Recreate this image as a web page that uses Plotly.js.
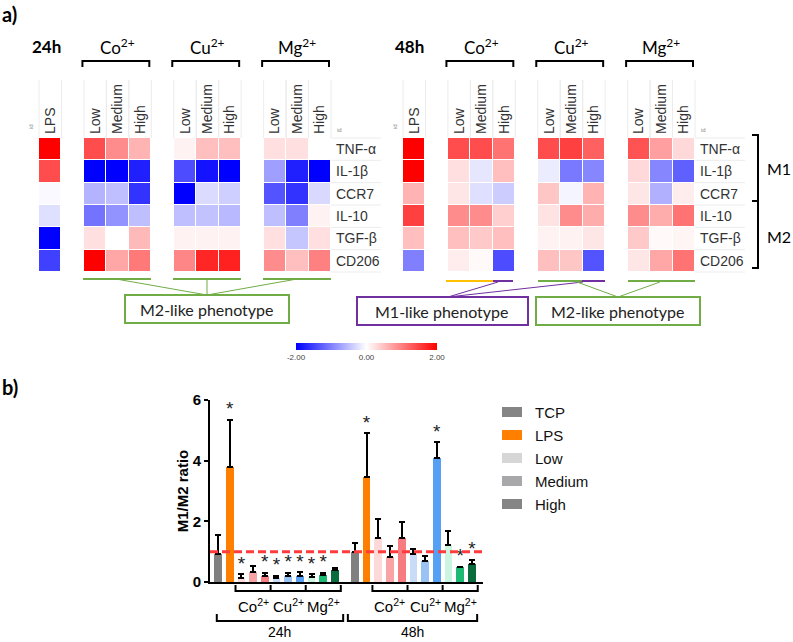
<!DOCTYPE html>
<html><head><meta charset="utf-8">
<script src="https://cdn.plot.ly/plotly-3.0.1.min.js"></script>
<style>html,body{margin:0;padding:0;background:#fff}#chart{width:793px;height:642px}</style>
</head><body><div id="chart"></div>
<script>
// ---------------- DATA ----------------
const rowLabels = ['TNF-α','IL-1β','CCR7','IL-10','TGF-β','CD206'];
const ions = ['Co','Cu','Mg'];
const levels = ['Low','Medium','High'];
const timePoints = ['24h','48h'];

// heatmap values (colour scale -2..2); each group: rows x [Low, Medium, High]
const lps24 = [2.0, 1.4, -0.05, -0.25, -2.0, -1.5];
const co24 = [[1.4,0.9,0.6],[-2,-2,-1.75],[-0.6,-0.5,-1.6],[-1.1,-0.85,-0.5],[0.25,0,0.55],[2,0.7,1.05]];
const cu24 = [[0.1,0.5,0.5],[-1.4,-1.85,-2],[-2,-0.28,-0.38],[-0.5,-0.48,-0.55],[0.1,0.1,0.1],[0.95,1.7,1.75]];
const mg24 = [[0.25,0.25,0],[-0.75,-1.75,-2],[-1.35,-1.6,-0.3],[-0.5,-1.0,0.1],[0.25,-0.45,0.25],[0.9,0.5,1.0]];
const lps48 = [2.0, 2.0, 0.6, 1.5, 0.5, -1.0];
const co48 = [[1.4,1.4,1.1],[0.25,-0.2,0.5],[0.2,-0.25,-0.4],[0.9,0.9,0.38],[0.5,0.42,0.5],[0.15,0.05,-1.4]];
const cu48 = [[1.4,1.5,1.25],[-0.15,-1.05,-0.95],[0.45,-0.08,0.6],[0.22,0.9,0.65],[0.1,0.1,0.2],[0.5,0.45,-1.35]];
const mg48 = [[1.35,0.75,0.3],[0.3,-0.95,-1.25],[0.2,-0.62,0.15],[0.9,0.65,1.1],[0.42,0.05,0.08],[0.2,0.7,1.1]];

// bar chart: order TCP, LPS, Co L/M/H, Cu L/M/H, Mg L/M/H
const barNames = ['TCP','LPS','Co Low','Co Medium','Co High','Cu Low','Cu Medium','Cu High','Mg Low','Mg Medium','Mg High'];
const ratio24 = [0.93, 3.8, 0.12, 0.34, 0.21, 0.12, 0.20, 0.21, 0.15, 0.22, 0.40];
const sd24    = [0.62, 1.55, 0.13, 0.20, 0.08, 0.08, 0.11, 0.11, 0.10, 0.09, 0.07];
const sig24   = [0, 1, 1, 0, 1, 1, 1, 1, 1, 1, 0];
const ratio48 = [1.00, 3.47, 1.44, 0.83, 1.44, 0.92, 0.70, 4.10, 1.21, 0.48, 0.59];
const sd48    = [0.27, 1.43, 0.63, 0.37, 0.53, 0.17, 0.17, 0.50, 0.47, 0.02, 0.13];
const sig48   = [0, 1, 0, 0, 0, 0, 0, 1, 0, 1, 1];
const legendLabels = ['TCP','LPS','Low','Medium','High'];
const refRatio = 1;

// ---------------- STYLE ----------------
const barColors = ['#808080','#ff8000','#fdd9d9','#f9a3a5','#f77c7f','#c9dcf7','#99c2f5','#559ff5','#c9f5e1','#1cba73','#0a6b3d'];
const legendColors = ['#858585','#ff8000','#d6d6d6','#a8a8aa','#858585'];
const W = 793, H = 642;
const X = v => v / W, Y = v => 1 - v / H;
const LATO = 'Lato, "Liberation Sans", sans-serif';
const ARIAL = '"Liberation Sans", Arial, sans-serif';

// heatmap geometry
const heatX0 = [39, 403], heatW = 292, nCols = 13, cw = heatW / nCols;
const heatTop = 138, heatBot = 272;

function buildZ(lps, co, cu, mg) {
  return rowLabels.map((_, r) => [lps[r], null, ...co[r], null, ...cu[r], null, ...mg[r]]);
}
const groupStart = [2, 6, 10];
const tickVals = [0, ...groupStart.flatMap(g => [g, g + 1, g + 2])];
const tickText = ['LPS', ...groupStart.flatMap(() => levels)];
const colorscale = [[0, '#0000ff'], [0.5, '#ffffff'], [1, '#ff0000']];

const traces = [];
const zs = [buildZ(lps24, co24, cu24, mg24), buildZ(lps48, co48, cu48, mg48)];
zs.forEach((z, k) => {
  traces.push({
    type: 'heatmap', z: z, x: [...Array(nCols).keys()], y: [...Array(rowLabels.length).keys()],
    xaxis: k ? 'x2' : 'x', yaxis: k ? 'y2' : 'y',
    colorscale: colorscale, zmin: -2, zmax: 2, xgap: 1, ygap: 1,
    showscale: k === 0, hoverongaps: false,
    colorbar: {
      orientation: 'h', x: X(366.5), xanchor: 'center', y: Y(343), yanchor: 'top',
      len: 141, lenmode: 'pixels', thickness: 7, thicknessmode: 'pixels',
      outlinewidth: 0, xpad: 0, ypad: 0,
      tickvals: [-2, 0, 2], ticktext: ['-2.00', '0.00', '2.00'], ticks: '',
      tickfont: { size: 8, color: '#444', family: ARIAL }
    }
  });
});

// bars
const gap48 = 11.7;
const pos = [...ratio24.map((_, i) => i), ...ratio48.map((_, i) => i + gap48)];
const vals = [...ratio24, ...ratio48];
const sds = [...sd24, ...sd48];
const sigs = [...sig24, ...sig48];
traces.push({
  type: 'bar', x: pos, y: vals, xaxis: 'x3', yaxis: 'y3', width: 0.66,
  marker: { color: [...barColors, ...barColors], line: { width: 0 } },
  error_y: { type: 'data', symmetric: false, array: sds, arrayminus: sds.map(() => 0), color: '#000', thickness: 2, width: 3 },
  hoverinfo: 'skip'
});
const starIdx = sigs.map((s, i) => s ? i : -1).filter(i => i >= 0);
traces.push({
  type: 'scatter', mode: 'text', xaxis: 'x3', yaxis: 'y3',
  x: starIdx.map(i => pos[i]), y: starIdx.map(i => vals[i] + sds[i]),
  text: starIdx.map(() => '*'), textposition: 'top center',
  textfont: { size: 19, color: '#222', family: ARIAL }, hoverinfo: 'skip'
});

// ---------------- DECORATION ----------------
const shapes = [];
const annotations = [];
function seg(x0, y0, x1, y1, color, width, extra) {
  shapes.push(Object.assign({ type: 'line', xref: 'paper', yref: 'paper', x0: X(x0), y0: Y(y0), x1: X(x1), y1: Y(y1), line: { color: color, width: width } }, extra || {}));
}
function rect(x0, y0, x1, y1, color, width) {
  shapes.push({ type: 'rect', xref: 'paper', yref: 'paper', x0: X(x0), y0: Y(y0), x1: X(x1), y1: Y(y1), line: { color: color, width: width }, fillcolor: 'rgba(0,0,0,0)' });
}
function text(x, y, t, size, opts) {
  annotations.push(Object.assign({ xref: 'paper', yref: 'paper', x: X(x), y: Y(y), text: t, showarrow: false,
    xanchor: 'center', yanchor: 'middle', font: { size: size, color: '#000', family: LATO } }, opts || {}));
}

text(9, 14, 'a)', 20, { font: { size: 20, family: LATO, weight: 'bold', color: '#000' } });
text(10, 387, 'b)', 20, { font: { size: 20, family: LATO, weight: 'bold', color: '#000' } });

const rowH = (heatBot - heatTop) / rowLabels.length;
heatX0.forEach((ox, k) => {
  const colL = c => ox + c * cw;
  text(colL(0) + 7 + (k ? -1 : 0), 47, '<b>' + timePoints[k] + '</b>', 17);
  groupStart.forEach((g, gi) => {
    text(colL(g) + 1.5 * cw, 47, ions[gi] + '<sup>2+</sup>', 17);
    const a = colL(g) - 1.5, b = colL(g + 3) - 2;
    seg(a, 61, b, 61, '#000', 2);
    seg(a, 60, a, 67, '#000', 2);
    seg(b, 60, b, 67, '#000', 2);
  });
  // faint grid in header and right of cells
  [0, ...groupStart.flatMap(g => [g, g + 1, g + 2])].forEach(c => {
    seg(colL(c), 80, colL(c), heatTop, '#ececec', 1, { layer: 'below' });
    seg(colL(c + 1), 80, colL(c + 1), heatTop, '#ececec', 1, { layer: 'below' });
  });
  for (let r = 0; r <= rowLabels.length; r++) {
    seg(ox + heatW, heatTop + r * rowH, ox + heatW + 50, heatTop + r * rowH, '#ececec', 1, { layer: 'below' });
  }
  text(ox - 8, 127, 'id', 6, { textangle: -90, font: { size: 6, color: '#888', family: ARIAL } });
  text(ox + heatW + 8, 130, 'id', 6, { font: { size: 6, color: '#888', family: ARIAL } });
});

// underlines & phenotype boxes
const GREEN = '#70ad47', PURPLE = '#7030a0', YELLOW = '#ffc000';
[[83, 151], [173, 241], [263, 331]].forEach(s => seg(s[0], 279, s[1], 279, GREEN, 2));
seg(116, 279, 207, 295, GREEN, 1); seg(207, 279, 207, 295, GREEN, 1); seg(297, 279, 207, 295, GREEN, 1);
rect(125, 295, 289, 323, GREEN, 2);
text(207, 309, 'M2-like phenotype', 16, { font: { size: 16, color: '#222', family: LATO } });

seg(446, 281, 493, 281, YELLOW, 2); seg(493, 281, 513, 281, PURPLE, 2);
seg(538, 281, 582, 281, GREEN, 2); seg(582, 281, 605, 281, PURPLE, 2);
seg(628, 281, 695, 281, GREEN, 2);
seg(498, 282, 448, 297, PURPLE, 1); seg(583, 282, 448, 297, PURPLE, 1);
seg(577, 282, 618, 297, GREEN, 1); seg(660, 282, 618, 297, GREEN, 1);
rect(357, 297, 528, 325, PURPLE, 2);
text(442, 311, 'M1-like phenotype', 16, { font: { size: 16, color: '#222', family: LATO } });
rect(536, 297, 700, 325, GREEN, 2);
text(618, 311, 'M2-like phenotype', 16, { font: { size: 16, color: '#222', family: LATO } });

// M1 / M2 brackets
seg(752, 135, 758, 135, '#000', 2); seg(758, 134, 758, 269, '#000', 2);
seg(752, 268, 758, 268, '#000', 2); seg(752, 201, 758, 201, '#000', 2);
text(765, 169, 'M1', 16, { xanchor: 'left' }); text(765, 236, 'M2', 16, { xanchor: 'left' });

// reference dashed line
shapes.push({ type: 'line', xref: 'x3 domain', yref: 'y3', x0: 0, x1: 1, y0: refRatio, y1: refRatio,
  line: { color: '#ff3b3b', width: 3, dash: '8px,4px' } });

// bracket under bars
function bseg(x0, y0, x1, y1) {
  shapes.push({ type: 'line', xref: 'x3', yref: 'paper', x0: x0, x1: x1, y0: Y(y0), y1: Y(y1), line: { color: '#000', width: 2 } });
}
[0, gap48].forEach((off, k) => {
  const first = off + 1.5, bounds = [0, 1, 2, 3].map(j => first + 3 * j);
  bseg(bounds[0], 591, bounds[3], 591);
  bounds.forEach(b => bseg(b, 585, b, 592));
  ions.forEach((ion, gi) => {
    annotations.push({ xref: 'x3', yref: 'paper', x: first + 1.5 + 3 * gi, y: Y(605), yanchor: 'middle', xanchor: 'center',
      text: ion + '<sup>2+</sup>', showarrow: false, font: { size: 15, color: '#000', family: ARIAL } });
  });
  const b0 = off - 0.3 + (k ? -0.3 : 0.2), b1 = off + 10.7 - (k ? 0.25 : 0);
  bseg(b0, 621, b1, 621); bseg(b0, 614, b0, 622); bseg(b1, 614, b1, 622);
  annotations.push({ xref: 'x3', yref: 'paper', x: (b0 + b1) / 2, y: Y(632), yanchor: 'middle', xanchor: 'center',
    text: timePoints[k], showarrow: false, font: { size: 14, color: '#000', family: ARIAL } });
});

// custom legend
legendLabels.forEach((lab, i) => {
  const yc = 412 + i * 23;
  shapes.push({ type: 'rect', xref: 'paper', yref: 'paper', x0: X(502), x1: X(522), y0: Y(yc - 5), y1: Y(yc + 5), line: { width: 0 }, fillcolor: legendColors[i] });
  text(533, yc, lab, 15, { xanchor: 'left', font: { size: 15, color: '#111', family: ARIAL } });
});

const heatAxisX = k => ({
  domain: [X(heatX0[k]), X(heatX0[k] + heatW)], range: [-0.5, nCols - 0.5], anchor: k ? 'y2' : 'y',
  side: 'top', tickvals: tickVals, ticktext: tickText, tickangle: -90, ticks: '', ticklabelstandoff: 3,
  showgrid: false, zeroline: false, showline: false, fixedrange: true,
  tickfont: { size: 14, color: '#333', family: ARIAL }
});
const heatAxisY = k => ({
  domain: [Y(heatBot), Y(heatTop)], range: [rowLabels.length - 0.5, -0.5], anchor: k ? 'x2' : 'x',
  side: 'right', tickvals: [...Array(rowLabels.length).keys()], ticktext: rowLabels, ticks: '', ticklabelstandoff: 4,
  showgrid: false, zeroline: false, showline: false,
  tickfont: { size: 14, color: '#333', family: ARIAL }
});

const layout = {
  width: W, height: H, margin: { l: 0, r: 0, t: 0, b: 0 }, paper_bgcolor: '#fff', plot_bgcolor: 'rgba(0,0,0,0)',
  showlegend: false, font: { family: ARIAL },
  xaxis: heatAxisX(0), yaxis: heatAxisY(0), xaxis2: heatAxisX(1), yaxis2: heatAxisY(1),
  xaxis3: { domain: [X(210), X(483)], range: [-0.68, 22.65], anchor: 'y3', showline: true, linewidth: 2, linecolor: '#000',
    showticklabels: false, ticks: '', showgrid: false, zeroline: false },
  yaxis3: { domain: [Y(582), Y(400)], range: [0, 6], anchor: 'x3', tickvals: [0, 2, 4, 6], showline: true, linewidth: 2, linecolor: '#000',
    ticks: 'outside', ticklen: 4, tickwidth: 2, tickcolor: '#000', showgrid: false, zeroline: false,
    tickfont: { size: 15, color: '#000', family: ARIAL, weight: 'bold' },
    title: { text: 'M1/M2 ratio', standoff: 0, font: { size: 15, color: '#000', family: ARIAL, weight: 'bold' } } },
  shapes: shapes, annotations: annotations, bargap: 0
};
Plotly.newPlot('chart', traces, layout, { staticPlot: true, displayModeBar: false });
</script></body></html>
